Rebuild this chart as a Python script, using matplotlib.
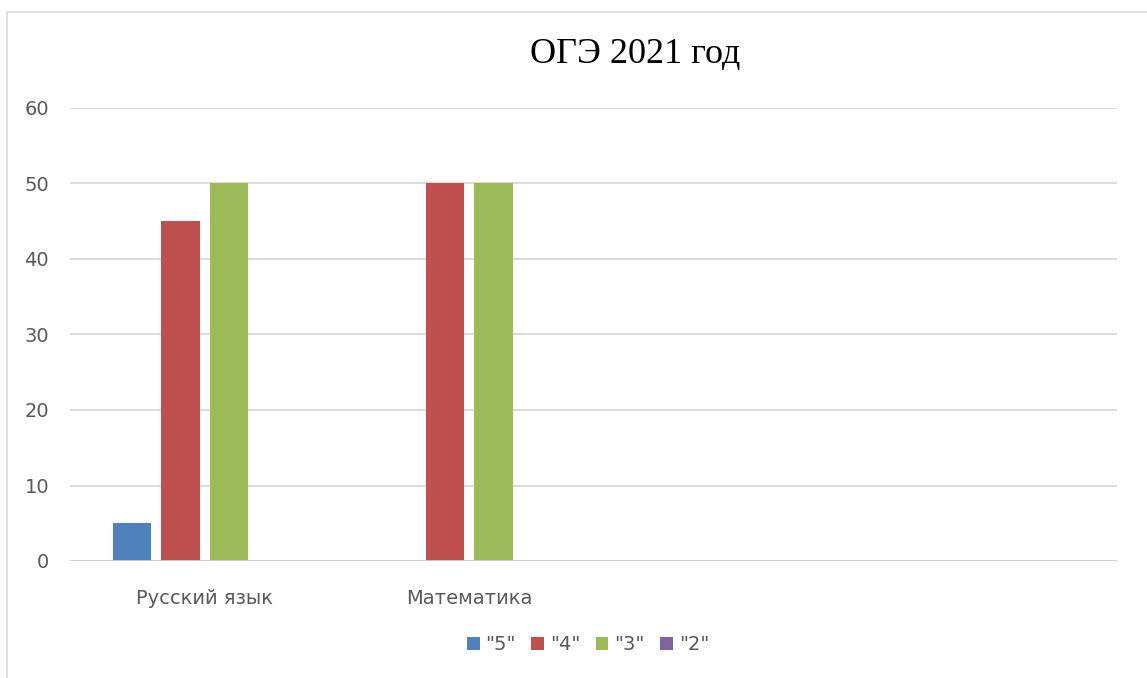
import matplotlib.pyplot as plt
from matplotlib.patches import Rectangle
import numpy as np

# данные
categories = ["Русский язык", "Математика", "", ""]
series_names = ['"5"', '"4"', '"3"', '"2"']
values_5 = [5, 0, 0, 0]
values_4 = [45, 50, 0, 0]
values_3 = [50, 50, 0, 0]
values_2 = [0, 0, 0, 0]
colors = ["#4F81BD", "#C0504D", "#9BBB59", "#8064A2"]
yticks = [0, 10, 20, 30, 40, 50, 60]

W, H = 1147, 678
fig = plt.figure(figsize=(W / 100, H / 100), dpi=100)
ax = fig.add_axes([70 / W, 1 - 561 / H, 1047 / W, 453 / H])

# рамка области диаграммы
fig.add_artist(Rectangle((7 / W, -0.1), 1.2, 1 - 12 / H + 0.1,
                         transform=fig.transFigure, fill=False,
                         edgecolor="#d9d9d9", linewidth=1.2))

x = np.arange(len(categories))
bw = 0.145
step = 0.183
all_vals = [values_5, values_4, values_3, values_2]
for i, (vals, name, c) in enumerate(zip(all_vals, series_names, colors)):
    ax.bar(x + (i - 1.5) * step, vals, bw, color=c, label=name, zorder=3)

ax.set_xlim(-0.509, 3.448)
ax.set_ylim(0, 60)
ax.set_yticks(yticks)
ax.yaxis.grid(True, color="#d9d9d9", linewidth=1.3, zorder=0)
ax.axhline(0, color="#d0d0d0", linewidth=2, zorder=4)
for s in ax.spines.values():
    s.set_visible(False)
ax.tick_params(length=0, labelsize=14, labelcolor="#595959")
ax.tick_params(axis="y", pad=15)
ax.tick_params(axis="x", pad=20)
ax.set_xticks(x)
ax.set_xticklabels(categories)

fig.text(635 / W, 1 - 55 / H, "ОГЭ 2021 год", ha="center", va="center",
         fontsize=26, family="Liberation Serif")

leg = fig.legend(loc="center", bbox_to_anchor=(588 / W, 1 - 645 / H), ncol=4,
                 frameon=False, handlelength=0.65, handleheight=0.65,
                 handletextpad=0.3, columnspacing=0.8,
                 prop={"size": 14})
for t in leg.get_texts():
    t.set_color("#595959")

fig.savefig("out.png", dpi=100)
